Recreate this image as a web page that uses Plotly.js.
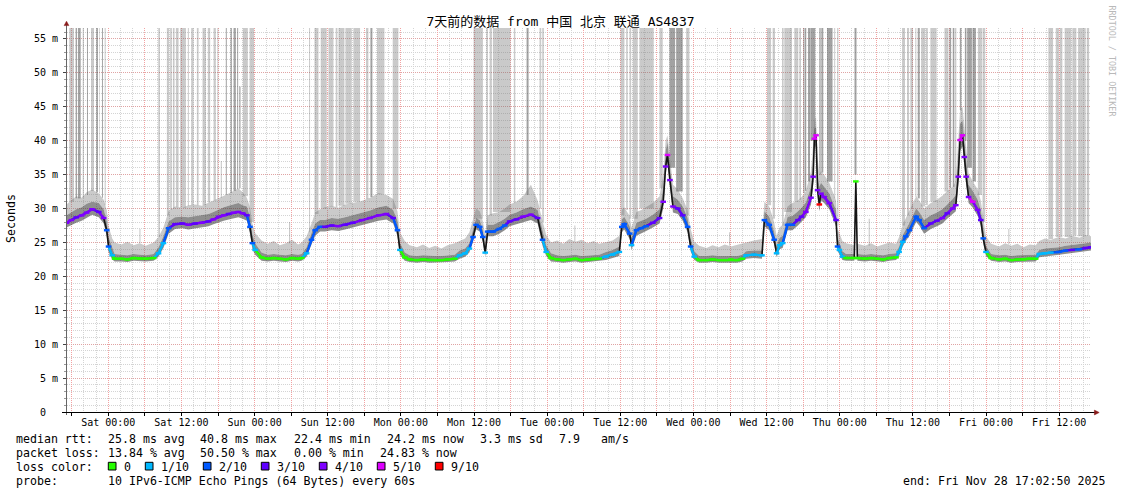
<!DOCTYPE html>
<html><head><meta charset="utf-8">
<script src="https://cdn.plot.ly/plotly-3.0.1.min.js"></script>
<style>html,body{margin:0;padding:0;background:#fff;}#chart{width:1121px;height:494px;}</style>
</head><body><div id="chart"></div>
<script>
// ---------------- DATA ----------------
const chartTitle = '7天前的数据 from 中国 北京 联通 AS4837';
const sampleOrigin = '2025-11-21T17:08:30Z';   // hours below are counted from this instant
const rangeStart = '2025-11-21 17:13:30';
const rangeEnd   = '2025-11-28 17:13:30';

const hours = [
 0.0,0.8,1.6,2.5,3.3,4.2,5.3,6.1,6.6,6.9,7.5,7.9,
 9.0,10.0,11.0,12.0,13.0,14.3,15.1,15.9,16.75,
 17.8,19.0,20.0,21.1,22.2,23.3,24.1,24.95,25.8,26.6,27.4,28.2,28.9,29.6,30.1,30.5,30.95,32.0,
 33,34,35,36,37,38,38.6,39.4,40.2,40.8,
 41.6,42.4,43.5,44.6,45.7,47.0,48.4,49.8,51.2,52.5,53.6,54.3,54.7,55.5,
 56.3,57.5,58.5,59.5,60.5,61.5,62.5,63.7,64.5,65.4,66.1,66.7,67.2,67.8,68.3,68.7,69.1,
 70.0,71.0,71.9,72.7,73.8,74.9,76.2,77.3,78.1,78.7,79.5,
 80.5,81.5,82.5,83.5,84.5,85.5,86.5,87.4,88.5,89.6,90.7,91.1,91.5,92.4,92.7,93.5,
 94.3,95.1,96.2,97.3,97.9,98.3,98.6,99.0,99.5,100.3,101.1,101.9,102.4,103.0,103.8,
 105,106,107,108,109,110,110.9,111.5,112.8,114.1,114.5,115.3,116.1,116.5,117.0,117.5,118.3,
 119.1,120.0,120.6,121.3,122.15,122.5,122.7,122.97,123.23,123.51,123.79,124.3,125.15,126.25,126.5,126.8,127.3,127.9,
 129.25,129.5,129.75,131,132,133,134,135,136.1,136.6,137.2,137.7,138.3,
 139.4,139.9,140.7,141.8,142.8,143.7,144.5,145.4,145.9,146.3,146.6,147.0,147.3,147.6,148.0,148.7,149.5,150.0,150.4,150.85,151.7,
 153,154,155,156,157,158,159,159.6,160.5,161.5,162.8,163.9,165.0,166.2,167.2,168.1
];
const median = [
 27.9,28.3,28.7,29.0,29.4,29.9,29.5,28.6,26.8,24.4,23.1,22.6,
 22.6,22.5,22.7,22.6,22.6,22.7,23.4,24.9,27.1,
 27.7,27.8,27.6,27.8,27.9,28.1,28.4,28.8,29.0,29.2,29.4,29.5,29.3,29.0,27.3,24.9,23.9,22.8,
 22.6,22.7,22.6,22.5,22.7,22.6,22.7,23.4,25.4,26.8,
 27.3,27.3,27.5,27.4,27.6,27.9,28.3,28.6,29.0,29.2,28.6,26.8,23.9,22.8,
 22.5,22.4,22.5,22.4,22.4,22.4,22.5,22.6,23.1,23.4,24.1,25.8,27.6,27.3,25.8,23.5,26.6,
 26.6,27.0,27.5,28.1,28.4,28.8,29.1,28.6,25.4,23.6,22.7,
 22.5,22.4,22.5,22.6,22.4,22.5,22.6,22.6,22.9,23.2,23.6,27.3,27.7,26.3,24.6,26.8,
 27.1,27.4,27.9,28.6,31.0,36.2,37.9,34.2,30.3,30.0,29.0,27.3,24.4,22.9,22.4,
 22.4,22.5,22.4,22.4,22.5,22.4,22.6,23.1,23.2,23.1,28.3,27.6,25.4,23.4,24.6,24.9,27.6,
 27.6,28.3,28.8,29.5,31.6,34.7,40.3,40.8,32.7,30.6,32.2,31.7,30.8,28.3,24.4,23.9,22.9,22.7,
 22.7,34.0,22.7,22.6,22.7,22.6,22.5,22.7,22.8,23.6,25.1,25.9,26.8,
 28.8,28.3,27.1,27.8,28.2,28.6,29.3,30.0,30.5,34.7,40.1,40.8,37.6,34.7,31.7,31.0,29.8,28.3,25.6,23.6,22.7,
 22.5,22.6,22.4,22.5,22.5,22.6,22.6,23.3,23.4,23.5,23.6,23.8,23.9,24.0,24.2,24.3
];
const lossTenths = [
 4,4,3,4,4,4,3,4,2,2,1,0,
 0,0,0,0,0,0,1,1,2,
 3,3,4,3,4,3,4,4,4,3,4,4,4,3,2,2,1,0,
 0,0,0,0,0,0,0,1,2,2,
 2,3,3,4,3,3,4,4,4,4,3,2,1,0,
 0,0,0,0,0,0,0,0,1,1,1,2,2,2,2,1,2,
 2,2,2,3,3,4,4,3,2,1,0,
 0,0,0,0,0,0,0,0,1,1,1,2,2,2,1,2,
 2,2,3,3,4,4,5,4,4,3,3,2,2,1,0,
 0,0,0,0,0,0,0,1,1,1,2,2,2,1,1,1,2,
 2,3,3,4,4,4,5,5,4,9,4,4,4,3,2,1,1,0,
 0,0,0,0,0,0,0,0,0,1,1,2,2,
 2,2,2,3,3,4,3,4,4,4,5,5,4,4,4,5,4,3,2,1,0,
 0,0,0,0,0,0,0,1,1,1,2,2,3,2,3,3
];
const smokeLo = [
 27.2,27.6,27.9,28.2,28.6,29.1,28.7,27.8,25.9,23.6,22.5,22.2,
 22.2,22.1,22.3,22.2,22.2,22.3,22.9,24.2,26.3,
 27.0,27.1,26.9,27.1,27.2,27.4,27.7,28.0,28.2,28.4,28.6,28.7,28.5,28.2,26.3,24.0,23.2,22.3,
 22.2,22.3,22.2,22.1,22.3,22.2,22.3,22.9,24.7,26.0,
 26.6,26.6,26.8,26.7,26.9,27.2,27.6,27.9,28.2,28.4,27.8,25.9,23.2,22.3,
 22.1,22.0,22.1,22.0,22.0,22.0,22.1,22.2,22.6,22.9,23.5,25.1,26.9,26.6,25.1,22.9,25.9,
 25.9,26.3,26.8,27.4,27.7,28.0,28.3,27.8,24.5,23.0,22.2,
 22.1,22.0,22.1,22.2,22.0,22.1,22.2,22.2,22.4,22.7,23.0,26.5,26.9,25.5,23.9,26.0,
 26.4,26.7,27.2,27.8,30.0,35.0,36.8,33.0,29.4,29.2,28.2,26.5,23.7,22.4,22.0,
 22.0,22.1,22.0,22.0,22.1,22.0,22.2,22.6,22.7,22.6,27.4,26.8,24.7,22.8,24.0,24.2,26.8,
 26.8,27.5,28.0,28.7,30.6,33.5,38.8,39.3,31.5,29.6,31.2,30.8,29.9,27.4,23.7,23.3,22.4,22.3,
 22.3,33.4,22.3,22.2,22.3,22.2,22.1,22.3,22.4,23.0,24.4,25.2,26.0,
 28.0,27.5,26.3,27.0,27.4,27.8,28.5,29.2,29.6,33.5,38.5,39.2,36.3,33.5,30.8,30.1,28.9,27.5,24.8,23.0,22.3,
 22.1,22.2,22.0,22.1,22.1,22.2,22.2,22.8,22.9,23.0,23.1,23.3,23.4,23.5,23.7,23.8
];
const smokeDark = [
 29.0,29.5,29.9,30.2,30.7,31.0,30.8,29.9,28.2,25.8,24.1,23.3,
 23.2,23.1,23.3,23.2,23.1,23.3,24.3,25.9,28.1,
 28.7,28.8,28.7,28.9,29.0,29.2,29.5,29.9,30.2,30.4,30.6,30.8,30.5,30.3,28.8,26.2,24.9,23.5,
 23.2,23.3,23.2,23.1,23.3,23.2,23.3,24.3,26.4,27.8,
 28.3,28.3,28.6,28.5,28.7,29.0,29.4,29.7,30.2,30.4,29.8,28.2,25.0,23.5,
 23.1,23.0,23.1,23.0,23.0,23.0,23.1,23.2,23.8,24.1,24.9,26.8,28.6,28.3,26.9,24.5,27.6,
 27.6,28.0,28.5,29.1,29.4,29.9,30.3,29.8,26.8,24.6,23.4,
 23.1,23.0,23.1,23.2,23.0,23.1,23.2,23.2,23.6,23.9,24.4,28.4,28.8,27.4,25.7,27.9,
 28.2,28.5,29.1,29.9,33.0,38.5,39.8,36.0,31.8,31.3,30.3,28.6,25.6,23.7,23.0,
 23.0,23.1,23.0,23.0,23.1,23.0,23.2,23.7,23.8,23.8,29.6,28.8,26.6,24.5,25.7,26.0,28.8,
 28.9,29.6,30.1,30.9,33.2,37.0,41.8,42.0,35.0,33.2,33.8,33.2,32.2,29.8,25.7,25.0,23.7,23.3,
 23.3,34.6,23.3,23.2,23.3,23.2,23.1,23.3,23.4,24.4,26.1,26.9,27.9,
 30.0,29.5,28.3,29.0,29.4,29.9,30.6,31.4,32.0,37.5,42.5,43.0,40.0,36.8,33.5,32.6,31.3,29.8,27.0,24.5,23.3,
 23.1,23.2,23.0,23.1,23.1,23.2,23.2,23.9,24.1,24.2,24.3,24.5,24.6,24.7,24.9,25.0
];
const smokeLight = [
 30.6,31.2,31.8,31.6,32.4,32.8,32.2,31.3,29.8,27.4,25.6,25.0,
 24.7,25.1,24.6,24.9,24.5,25.0,25.8,27.2,29.6,
 30.3,30.1,30.5,30.6,30.4,30.9,31.2,31.5,31.8,32.2,32.6,33.0,32.4,31.6,30.2,27.8,26.4,25.3,
 24.8,25.2,24.6,24.9,25.4,24.7,25.0,25.9,27.8,29.4,
 29.9,30.2,30.4,30.1,30.6,30.8,31.1,31.6,32.3,32.0,31.4,29.6,26.5,25.2,
 24.6,24.3,24.7,24.2,24.5,24.1,24.6,24.9,25.2,25.6,26.5,28.3,30.0,29.6,28.2,26.0,29.0,
 29.3,29.5,30.0,30.6,31.0,31.8,33.5,31.2,28.2,26.1,25.0,
 25.3,24.8,25.5,25.1,25.4,24.9,25.2,24.8,25.0,25.3,26.0,29.8,30.2,28.9,27.2,29.5,
 29.8,30.2,30.8,31.8,35.0,40.0,40.8,37.5,33.5,32.8,31.5,29.8,27.0,25.1,24.5,
 24.2,24.6,24.3,24.7,24.4,24.6,24.8,25.0,25.3,25.5,31.0,30.3,28.0,26.0,27.2,27.6,30.3,
 30.8,31.2,31.7,32.6,35.5,39.5,43.0,43.5,37.5,35.0,35.5,35.0,33.8,31.2,27.0,26.4,25.2,24.9,
 24.6,35.2,24.8,24.5,24.9,24.4,24.7,25.0,24.8,25.8,27.6,28.5,29.6,
 31.8,31.2,30.0,30.8,31.3,31.9,32.6,33.2,34.0,40.0,44.5,45.0,42.0,38.5,35.2,34.0,32.8,31.2,28.4,25.9,24.8,
 24.4,24.9,24.5,24.8,24.3,24.7,24.6,25.2,25.6,25.4,25.8,25.6,26.0,25.7,26.1,25.9
];

// ping bursts that run off the top of the scale (hours from sampleOrigin)
const spikeStart = [0.46,1.50,1.88,2.66,3.36,4.02,4.88,5.38,5.82,6.26,15.11,16.47,17.01,17.46,17.95,18.65,19.91,20.46,21.39,22.32,23.19,24.13,24.75,26.14,26.91,27.41,28.00,28.93,30.03,39.80,40.68,41.71,42.98,44.17,44.62,45.76,47.07,49.14,49.86,50.94,53.52,66.79,68.87,69.42,69.96,73.40,75.48,77.61,78.05,90.89,91.82,92.36,92.90,93.99,97.28,98.92,100.02,101.66,114.93,115.85,117.39,117.76,119.40,120.23,120.88,121.16,121.65,122.03,123.51,123.84,124.77,125.95,126.44,129.28,137.08,137.90,138.44,139.26,139.66,140.21,140.98,141.73,144.04,144.86,145.40,145.78,146.57,147.39,147.77,148.64,149.53,150.29,161.09,162.30,162.96,163.76,165.02,165.96,167.39];
const spikeEnd   = [1.23,1.72,2.33,2.87,3.52,4.51,5.16,5.49,5.98,6.43,15.27,16.85,17.29,17.73,18.39,19.59,20.08,20.85,21.67,22.87,23.57,24.50,24.92,26.30,27.13,27.78,28.16,29.75,30.78,39.96,41.34,42.70,43.80,44.45,45.60,46.80,48.16,49.53,50.19,52.16,54.45,68.32,69.14,69.79,72.86,73.63,75.81,77.89,78.32,91.54,92.08,92.64,93.72,96.34,97.82,99.85,101.10,102.20,115.59,116.24,117.65,119.03,120.06,120.51,121.09,121.37,121.98,122.85,123.73,124.16,125.68,126.11,126.65,129.61,137.57,138.23,138.88,139.43,139.99,140.86,141.31,142.76,144.70,145.14,145.67,145.99,146.83,147.65,148.54,149.20,150.19,150.73,161.86,162.84,163.39,164.86,165.68,167.22,167.77];
const spikeBase  = [31.0,31.5,31.5,31.6,32.0,32.6,32.4,32.2,31.6,30.5,25.8,29.0,29.8,30.0,30.2,30.1,30.4,30.5,30.5,30.5,30.9,31.2,31.4,32.0,32.3,32.6,32.9,31.8,28.0,26.5,29.2,30.0,30.3,30.2,30.4,30.7,31.0,31.4,31.7,32.1,30.0,28.5,27.0,29.0,29.5,30.8,32.0,30.0,28.0,29.0,29.8,28.5,28.5,30.0,33.0,36.0,32.5,29.0,30.5,28.5,27.5,29.5,31.0,31.3,32.3,32.6,34.0,40.0,35.0,35.3,34.0,31.5,27.5,35.0,27.5,29.0,30.0,31.7,31.5,30.3,30.5,31.0,32.5,33.0,33.2,33.8,44.5,40.0,36.0,34.0,32.0,28.0,25.5,25.8,25.8,25.8,26.0,25.9,26.0];
const spikeDark  = [0,1,1,0,1,0,1,0,1,0,1,0,0,0,0,0,0,0,0,0,0,0,0,1,1,1,1,0,0,0,0,0,0,0,0,0,0,0,1,0,0,0,0,0,0,0,1,0,0,0,0,0,0,0,0,1,1,0,0,0,0,0,0,0,1,1,1,1,1,1,1,0,0,1,0,0,0,0,1,0,0,0,0,1,1,0,1,1,1,1,0,0,0,0,0,0,0,0,0];
const spikeTop = 60;   // off-scale value of those pings

// single pings that stick out of the smoke but stay on scale
const partialHour = [12.05,25.4,28.45,36.6,83.4,108.8,131.7,154.6];
const partialBase = [24.9,31.6,33.0,24.9,25.1,24.5,24.5,24.7];
const partialTop  = [27.0,37.0,48.0,28.0,27.5,26.5,28.5,27.0];
const partialDark = [0,0,1,0,0,0,0,0];

const yTickValues = [0,5,10,15,20,25,30,35,40,45,50,55];
const yTickLabels = ['0\u00a0\u00a0','5 m','10 m','15 m','20 m','25 m','30 m','35 m','40 m','45 m','50 m','55 m'];
const xTickFirst = '2025-11-21T18:00:00Z';
const xTickLabels = ['Sat 00:00','Sat 12:00','Sun 00:00','Sun 12:00','Mon 00:00','Mon 12:00','Tue 00:00','Tue 12:00','Wed 00:00','Wed 12:00','Thu 00:00','Thu 12:00','Fri 00:00','Fri 12:00'];

const lossLevels = [0,1,2,3,4,5,9];
const lossLabels = ['0','1/10','2/10','3/10','4/10','5/10','9/10'];
const lossColors = ['#26ff00','#00b8ff','#0059ff','#5e00ff','#7e00ff','#dd00ff','#ff0000'];

const rttLine  = ['median rtt:','25.8 ms avg','40.8 ms max','22.4 ms min','24.2 ms now','3.3 ms sd','7.9','am/s'];
const lossLine = ['packet loss:','13.84 % avg','50.50 % max','0.00 % min','24.83 % now'];
const colorLineLabel = 'loss color:';
const probeLine = ['probe:','10 IPv6-ICMP Echo Pings (64 Bytes) every 60s'];
const endText = 'end: Fri Nov 28 17:02:50 2025';
const yTitle = 'Seconds';
const watermark = 'RRDTOOL / TOBI OETIKER';

// ---------------- BUILD ----------------
const HOUR = 3600000;
const origin = Date.parse(sampleOrigin);
const tx = h => origin + h * HOUR;
const X = hours.map(tx);

const MONO = "'DejaVu Sans Mono', monospace";
const TITLEFONT = "'DejaVu Sans Mono', 'Noto Sans CJK SC', monospace";
const colorOf = lv => lossColors[lossLevels.indexOf(lv)];

const traces = [];
// full-height spike bars
[0,1].forEach(shade => {
  const idx = spikeStart.map((_, i) => i).filter(i => spikeDark[i] === shade);
  traces.push({
    type:'bar', hoverinfo:'skip',
    x: idx.map(i => tx((spikeStart[i] + spikeEnd[i]) / 2)),
    width: idx.map(i => (spikeEnd[i] - spikeStart[i]) * HOUR),
    base: idx.map(i => spikeBase[i]),
    y: idx.map(i => spikeTop - spikeBase[i]),
    marker:{color: shade ? 'rgba(70,70,70,0.5)' : 'rgba(110,110,110,0.37)', line:{width:0}}
  });
});
// partial spikes
[0,1].forEach(shade => {
  const idx = partialHour.map((_, i) => i).filter(i => partialDark[i] === shade);
  traces.push({
    type:'bar', hoverinfo:'skip',
    x: idx.map(i => tx(partialHour[i])),
    width: idx.map(() => 0.18 * HOUR),
    base: idx.map(i => partialBase[i]),
    y: idx.map(i => partialTop[i] - partialBase[i]),
    marker:{color: shade ? 'rgba(70,70,70,0.55)' : 'rgba(110,110,110,0.37)', line:{width:0}}
  });
});
// smoke
traces.push({type:'scatter', mode:'lines', x:X, y:smokeLo, line:{width:0}, hoverinfo:'skip'});
traces.push({type:'scatter', mode:'lines', x:X, y:smokeDark, line:{width:0}, fill:'tonexty', fillcolor:'rgba(50,50,50,0.55)', hoverinfo:'skip'});
traces.push({type:'scatter', mode:'lines', x:X, y:smokeLight, line:{width:0}, fill:'tonexty', fillcolor:'rgba(110,110,110,0.37)', hoverinfo:'skip'});
// dark median line
traces.push({type:'scatter', mode:'lines', x:X, y:median, line:{width:1.6, color:'#141414'}, hoverinfo:'skip'});
// coloured median by loss (only on gentle stretches; steep jumps stay dark)
const STEEP = 3.5; // ms per hour
const segs = {};
for (let i = 0; i < hours.length - 1; i++) {
  const slope = Math.abs(median[i + 1] - median[i]) / (hours[i + 1] - hours[i]);
  if (slope > STEEP) continue;
  const lv = lossTenths[i + 1];
  if (!segs[lv]) segs[lv] = {x:[], y:[], last:-1};
  const s = segs[lv];
  if (s.last === i) { s.x.push(X[i + 1]); s.y.push(median[i + 1]); }
  else {
    if (s.x.length) { s.x.push(null); s.y.push(null); }
    s.x.push(X[i], X[i + 1]); s.y.push(median[i], median[i + 1]);
  }
  s.last = i + 1;
}
lossLevels.forEach(lv => {
  if (!segs[lv]) return;
  traces.push({type:'scatter', mode:'lines', x:segs[lv].x, y:segs[lv].y, connectgaps:false,
    line:{width:2.4, color:colorOf(lv)}, hoverinfo:'skip'});
});
// a short coloured dash at every sample
traces.push({type:'scatter', mode:'markers', x:X, y:median, hoverinfo:'skip',
  marker:{symbol:'line-ew', size:4, line:{width:2.4, color:lossTenths.map(colorOf)}}});

// ticks
const firstTick = Date.parse(xTickFirst);
const tickvals = [], ticktext = [];
for (let k = 0; k < xTickLabels.length * 2; k++) {
  tickvals.push(firstTick + k * 6 * HOUR);
  ticktext.push(k % 2 === 1 ? xTickLabels[(k - 1) / 2] : '');
}

// layout helpers
const L = 67, T = 28, PW = 1024, PH = 384;
const px = p => (p - L) / PW;
const py = p => (T + PH - p) / PH;
const ann = (x, y, text, extra) => Object.assign({
  xref:'paper', yref:'paper', x:px(x), y:py(y), text, showarrow:false,
  xanchor:'left', yanchor:'middle', borderpad:0,
  font:{family:MONO, size:11.6, color:'#000'}
}, extra || {});

const annotations = [];
const rttX = [16, 107.3, 200, 293.3, 386.7, 479.3, 558.8, 600.5];
rttLine.forEach((t, i) => annotations.push(ann(rttX[i] - 0.7, 438.8, t)));
const lossX = [16, 107.3, 200, 293.3, 379.3];
lossLine.forEach((t, i) => annotations.push(ann(lossX[i] - 0.7, 452.8, t)));
annotations.push(ann(15.3, 466.8, colorLineLabel));
annotations.push(ann(15.3, 480.5, probeLine[0]));
annotations.push(ann(106.6, 480.5, probeLine[1]));
annotations.push(ann(902.3, 480.5, endText));
annotations.push(ann(11, 219, yTitle, {xanchor:'center', textangle:-90}));
annotations.push(ann(1111.5, 61, watermark, {xanchor:'center', textangle:90, font:{family:MONO, size:8.4, color:'#b9b9b9'}}));

const shapes = [];
// loss colour squares and labels
let sx = 108.3;
lossLabels.forEach((lab, i) => {
  shapes.push({type:'rect', xref:'paper', yref:'paper', x0:px(sx), x1:px(sx + 7.7), y0:py(470), y1:py(462.3),
    fillcolor:lossColors[i], line:{color:'#000', width:1}});
  annotations.push(ann(sx + 15 - 0.7, 466.8, lab));
  sx = sx + 15 + lab.length * 7 + 15;
});
// axis extensions and arrows
const arrowCol = '#8a1c1c';
shapes.push({type:'line', xref:'paper', yref:'paper', x0:px(66.5), x1:px(66.5), y0:py(415), y1:py(25), line:{color:'#666', width:1}});
shapes.push({type:'line', xref:'paper', yref:'paper', x0:px(62), x1:px(1095), y0:py(412.5), y1:py(412.5), line:{color:'#000', width:1}});
shapes.push({type:'path', xref:'paper', yref:'paper', fillcolor:arrowCol, line:{color:arrowCol, width:0.5},
  path:`M ${px(64.1)} ${py(25.6)} L ${px(66.5)} ${py(21.2)} L ${px(68.9)} ${py(25.6)} Z`});
shapes.push({type:'path', xref:'paper', yref:'paper', fillcolor:arrowCol, line:{color:arrowCol, width:0.5},
  path:`M ${px(1094.4)} ${py(410.1)} L ${px(1099.2)} ${py(412.5)} L ${px(1094.4)} ${py(414.9)} Z`});

const layout = {
  width:1121, height:494,
  margin:{l:L, r:1121 - L - PW, t:T, b:494 - T - PH, pad:0},
  paper_bgcolor:'#ffffff', plot_bgcolor:'#ffffff',
  showlegend:false, barmode:'overlay', hovermode:false,
  title:{text:chartTitle, font:{family:TITLEFONT, size:13, color:'#000'},
    x:0.5, xref:'container', xanchor:'center', y:1 - 21 / 494, yref:'container', yanchor:'middle'},
  xaxis:{type:'date', range:[rangeStart, rangeEnd], tickmode:'array', tickvals, ticktext,
    ticks:'outside', ticklen:3, tickcolor:'#000', tickwidth:1, ticklabelstandoff:-2,
    tickfont:{family:MONO, size:10, color:'#000'},
    showgrid:true, gridcolor:'#f2a2a2', griddash:'1px,1px', gridwidth:1,
    showline:false, zeroline:false, fixedrange:true,
    minor:{tickmode:'linear', tick0:'2025-11-21 18:00', dtick:2 * HOUR, showgrid:true,
      gridcolor:'#d4d4d4', griddash:'1px,1px', gridwidth:1, ticks:''}},
  yaxis:{range:[0, PH / 6.782], tickmode:'array', tickvals:yTickValues, ticktext:yTickLabels,
    ticks:'outside', ticklen:3, tickcolor:'#444', tickwidth:1, ticklabelstandoff:3,
    tickfont:{family:MONO, size:10, color:'#000'},
    showgrid:true, gridcolor:'#e0a4a4', griddash:'1px,1px', gridwidth:1,
    showline:false, zeroline:false, fixedrange:true,
    minor:{tickmode:'linear', tick0:0, dtick:1, showgrid:true, gridcolor:'#d4d4d4',
      griddash:'1px,1px', gridwidth:1, ticks:'outside', ticklen:2, tickcolor:'#999'}},
  shapes, annotations
};

Plotly.newPlot('chart', traces, layout, {staticPlot:true, displayModeBar:false});
</script>
</body></html>
